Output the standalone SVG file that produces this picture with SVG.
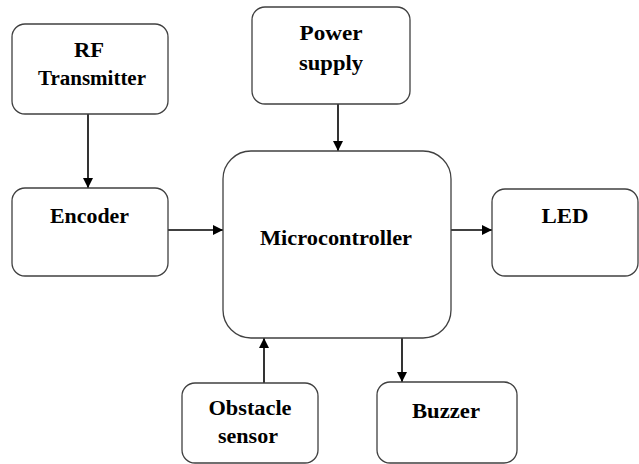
<svg xmlns="http://www.w3.org/2000/svg" width="639" height="464" viewBox="0 0 639 464">
<style>
.box{fill:#fff;stroke:#404040;stroke-width:1.3}
.lbl{font-family:"Liberation Serif","Times New Roman",serif;font-weight:bold;font-size:20px;fill:#000;text-anchor:middle}
.con{stroke:#000;stroke-width:1.6;fill:none;marker-end:url(#ah)}
</style>
<defs>
<marker id="ah" markerWidth="10" markerHeight="10" refX="10" refY="5" orient="auto" markerUnits="userSpaceOnUse">
<path d="M0,0 L10,5 L0,10 Z" fill="#000"/>
</marker>
</defs>
<rect width="639" height="464" fill="#fff"/>
<g id="connectors">
<line class="con" x1="88" y1="114" x2="88" y2="188"/>
<line class="con" x1="338" y1="104" x2="338" y2="151"/>
<line class="con" x1="168" y1="230" x2="223" y2="230"/>
<line class="con" x1="451" y1="230" x2="492" y2="230"/>
<line class="con" x1="264" y1="383" x2="264" y2="338"/>
<line class="con" x1="402" y1="338" x2="402" y2="382"/>
</g>
<g id="rf">
<rect class="box" x="12" y="24" width="156" height="90" rx="13"/>
<text class="lbl" x="89" y="57" textLength="30" lengthAdjust="spacingAndGlyphs">RF</text>
<text class="lbl" x="92" y="85" textLength="108" lengthAdjust="spacingAndGlyphs">Transmitter</text>
</g>
<g id="power">
<rect class="box" x="252" y="7" width="158" height="97" rx="13"/>
<text class="lbl" x="331" y="40" textLength="63" lengthAdjust="spacingAndGlyphs">Power</text>
<text class="lbl" x="331" y="70" textLength="64" lengthAdjust="spacingAndGlyphs">supply</text>
</g>
<g id="encoder">
<rect class="box" x="12" y="188" width="156" height="88" rx="13"/>
<text class="lbl" x="89.5" y="223" textLength="79" lengthAdjust="spacingAndGlyphs">Encoder</text>
</g>
<g id="micro">
<rect class="box" x="223" y="151" width="228" height="187" rx="28"/>
<text class="lbl" x="336" y="245" textLength="152" lengthAdjust="spacingAndGlyphs">Microcontroller</text>
</g>
<g id="led">
<rect class="box" x="492" y="189" width="146" height="87" rx="13"/>
<text class="lbl" x="565" y="223" textLength="47" lengthAdjust="spacingAndGlyphs">LED</text>
</g>
<g id="obstacle">
<rect class="box" x="182" y="383" width="136" height="80" rx="13"/>
<text class="lbl" x="250" y="415" textLength="83" lengthAdjust="spacingAndGlyphs">Obstacle</text>
<text class="lbl" x="248" y="443" textLength="60" lengthAdjust="spacingAndGlyphs">sensor</text>
</g>
<g id="buzzer">
<rect class="box" x="377" y="382" width="140" height="81" rx="13"/>
<text class="lbl" x="446" y="418" textLength="68" lengthAdjust="spacingAndGlyphs">Buzzer</text>
</g>
</svg>
